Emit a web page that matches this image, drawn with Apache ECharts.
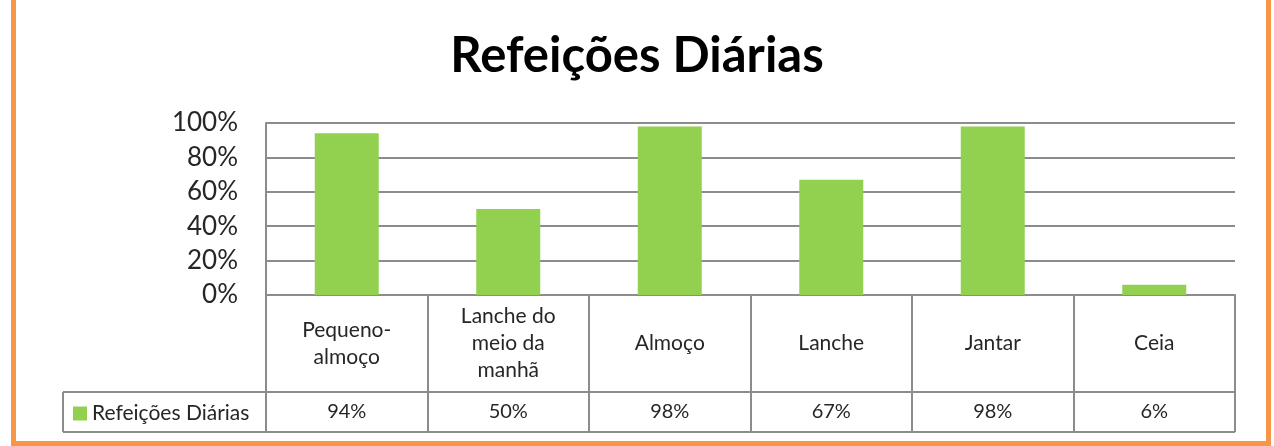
<!DOCTYPE html>
<html><head><meta charset="utf-8">
<script src="https://cdn.jsdelivr.net/npm/echarts@6/dist/echarts.min.js"></script>
<style>html,body{margin:0;padding:0;background:#fff}#c{width:1274px;height:446px}</style>
</head><body><div id="c"></div>
<script>
const titleText = 'Refeições Diárias';
const seriesName = 'Refeições Diárias';
const categories = ['Pequeno-almoço', 'Lanche do meio da manhã', 'Almoço', 'Lanche', 'Jantar', 'Ceia'];
const categoryLabels = ['Pequeno-\nalmoço', 'Lanche do\nmeio da\nmanhã', 'Almoço', 'Lanche', 'Jantar', 'Ceia'];
const values = [0.94, 0.50, 0.98, 0.67, 0.98, 0.06];
const yMin = 0, yMax = 1, yStep = 0.2;

const pct = v => Math.round(v * 100) + '%';
const FONT = 'Lato, "Open Sans", sans-serif';
const GRAY = '#8c8c8c';
const TXT = '#262626';

const gridL = 266, gridR = 1235, gridT = 123, gridB = 295;
const rowMid = 392, rowBot = 432, tableLeft = 63;

const chart = echarts.init(document.getElementById('c'), null, {renderer: 'canvas'});
chart.setOption({
  animation: false,
  backgroundColor: '#fff',
  textStyle: {fontFamily: FONT},
  title: {
    text: titleText, left: 'center', top: 32, padding: [0, 0, 0, 10],
    textStyle: {fontFamily: FONT, fontSize: 49, fontWeight: 'bold', color: '#000'}
  },
  legend: {
    data: [seriesName], left: 73, top: 403, padding: 0,
    icon: 'rect', itemWidth: 14, itemHeight: 14,
    textStyle: {fontFamily: FONT, fontSize: 21, color: TXT, lineHeight: 20}
  },
  grid: {left: gridL, right: 1274 - gridR, top: gridT, bottom: 446 - gridB, outerBoundsMode: 'none'},
  xAxis: [{
    type: 'category', data: categories,
    axisLine: {show: true, lineStyle: {color: GRAY, width: 2}},
    axisTick: {show: true, interval: 0, length: rowBot - gridB, lineStyle: {color: GRAY, width: 2}},
    axisLabel: {interval: 0, margin: (rowMid - gridB) / 2, verticalAlign: 'middle',
      formatter: (v, i) => categoryLabels[i], fontFamily: FONT, fontSize: 21, lineHeight: 27, color: TXT}
  }, {
    type: 'category', data: categories, position: 'bottom',
    axisLine: {show: false}, axisTick: {show: false},
    axisLabel: {interval: 0, margin: (rowMid + rowBot) / 2 - gridB, verticalAlign: 'middle',
      formatter: (v, i) => pct(values[i]), fontFamily: FONT, fontSize: 20, color: TXT}
  }],
  yAxis: {
    type: 'value', min: yMin, max: yMax, interval: yStep,
    axisLine: {show: true, lineStyle: {color: GRAY, width: 2}},
    axisTick: {show: false},
    splitLine: {lineStyle: {color: GRAY, width: 2}},
    axisLabel: {formatter: pct, fontFamily: FONT, fontSize: 26, color: TXT, margin: 28}
  },
  series: [{
    name: seriesName, type: 'bar', data: values, barWidth: 64,
    itemStyle: {color: '#92D050'}
  }],
  graphic: [
    {type: 'line', shape: {x1: tableLeft, y1: rowMid, x2: gridR, y2: rowMid}, style: {stroke: GRAY, lineWidth: 2}},
    {type: 'line', shape: {x1: tableLeft, y1: rowBot, x2: gridR, y2: rowBot}, style: {stroke: GRAY, lineWidth: 2}},
    {type: 'line', shape: {x1: tableLeft, y1: rowMid, x2: tableLeft, y2: rowBot}, style: {stroke: GRAY, lineWidth: 2}},
    {type: 'rect', shape: {x: 13.5, y: -10, width: 1255, height: 453.5}, style: {fill: null, stroke: '#F79646', lineWidth: 5}}
  ]
});
</script></body></html>
